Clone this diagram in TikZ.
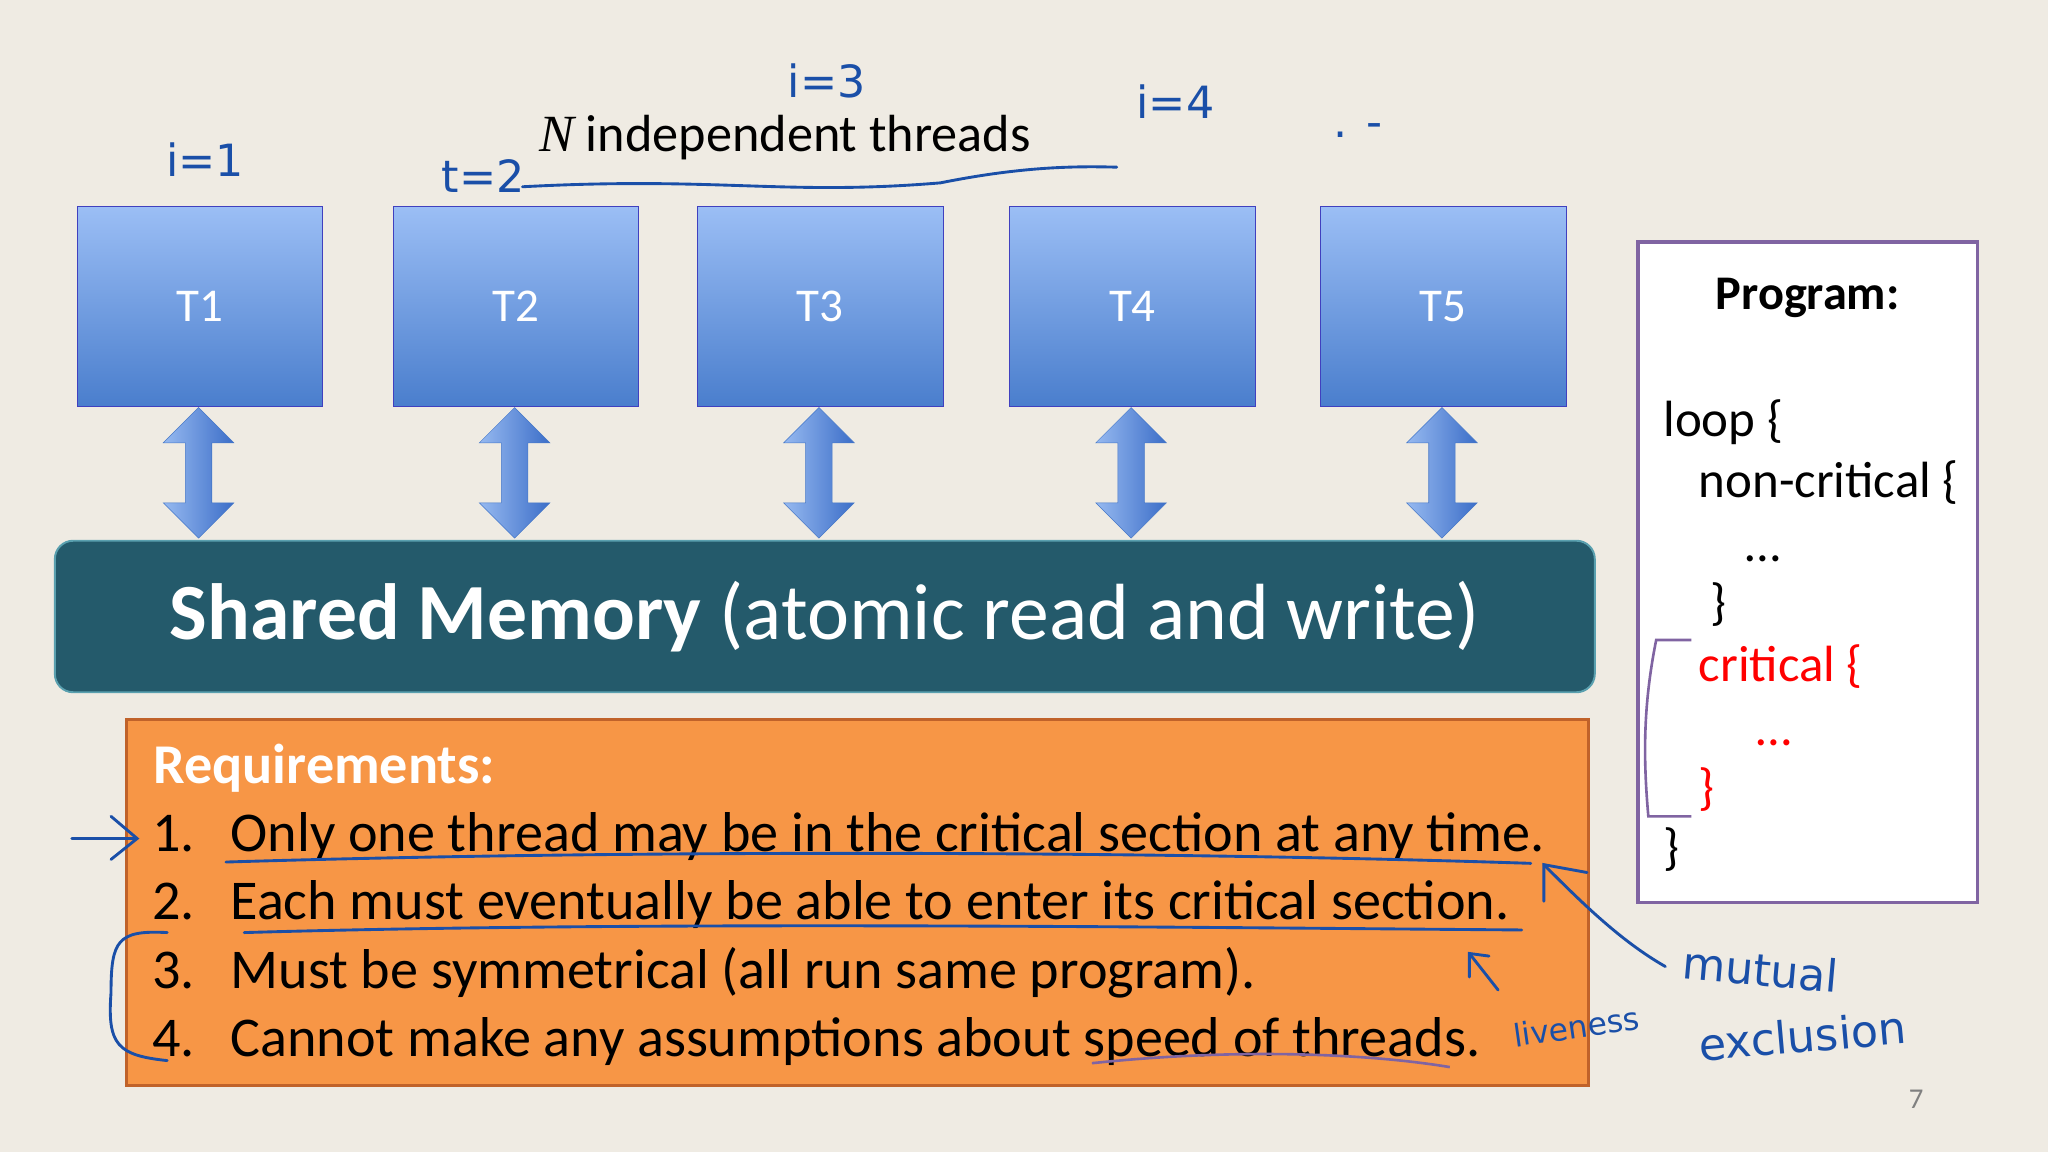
\documentclass[tikz,border=0pt]{standalone}
\usepackage{fontspec}
\setmainfont{Carlito}
\newfontfamily\hand{DejaVu Sans}
\newfontfamily\serifN{Liberation Serif}
\usetikzlibrary{shapes.arrows}
\definecolor{bg}{HTML}{EFEBE3}
\definecolor{ink}{HTML}{1A4FA8}
\definecolor{tealbox}{HTML}{245A6B}
\definecolor{orangebox}{HTML}{F79646}
\definecolor{purp}{HTML}{8064A2}
\tikzset{
 tbox/.style={draw=blue!50!gray, top color={rgb,255:red,155;green,190;blue,245}, bottom color={rgb,255:red,74;green,126;blue,205}, minimum width=188pt, minimum height=153pt, font=\fontsize{36}{42}\selectfont, text=white},
 darr/.style={double arrow, rotate=90, minimum height=100pt, minimum width=54pt, double arrow head extend=12pt, inner sep=7pt, draw={rgb,255:red,70;green,120;blue,200}, left color={rgb,255:red,150;green,185;blue,240}, right color={rgb,255:red,60;green,110;blue,200}, shading angle=90},
 handw/.style={text=ink, font=\hand\fontsize{34}{40}\selectfont},
 stroke/.style={draw=ink, line width=2.2pt, line cap=round},
 req/.style={anchor=base west, font=\fontsize{43}{50}\selectfont},
 prog/.style={anchor=base west, font=\fontsize{39}{46}\selectfont}
}
\begin{document}
\begin{tikzpicture}[x=1pt,y=-1pt]
\fill[bg] (0,0) rectangle (1568,882);
\useasboundingbox (0,0) rectangle (1568,882);
% thread boxes
\foreach \n/\x in {1/153,2/395,3/628,4/867,5/1105}{
 \node[tbox] (t\n) at (\x,234.5) {T\n};
 \node[darr] (a\n) at (\x-1,362) {};
}
% shared memory
\node[draw={rgb,255:red,90;green,160;blue,175}, line width=1.5pt, fill=tealbox, rounded corners=14pt, minimum width=1179pt, minimum height=116pt, text=white, font=\fontsize{61}{70}\selectfont] (mem) at (631.5,472) {\textbf{Shared Memory} (atomic read and write)};
% requirements
\node[draw={rgb,255:red,192;green,98;blue,42}, line width=2.5pt, fill=orangebox, minimum width=1119pt, minimum height=280pt] (reqbox) at (656.5,691) {};
\node[req, text=white] (rh) at (114,600) {\textbf{Requirements:}};
\node[req] (r1n) at (113,652) {1.};\node[req] (r1) at (173,652) {Only one thread may be in the critical section at any time.};
\node[req] (r2n) at (113,704) {2.};\node[req] (r2) at (173,704) {Each must eventually be able to enter its critical section.};
\node[req] (r3n) at (113,757) {3.};\node[req] (r3) at (173,757) {Must be symmetrical (all run same program).};
\node[req] (r4n) at (113,809) {4.};\node[req] (r4) at (173,809) {Cannot make any assumptions about speed of threads.};
% program box
\node[draw=purp, line width=3pt, fill=white, minimum width=260pt, minimum height=506pt] (pbox) at (1384,438) {};
\node[font=\fontsize{37}{44}\selectfont\bfseries] (ph) at (1384,228) {Program:};
\node[prog] (p1) at (1270,334) {loop \{};
\node[prog] (p2) at (1297,381) {non-critical \{};
\node[prog] (p3) at (1333,430) {\dots};
\node[prog] (p4) at (1306,474) {\}};
\node[prog, text=red] (p5) at (1297,522) {critical \{};
\node[prog, text=red] (p6) at (1341,571) {\dots};
\node[prog, text=red] (p7) at (1297,616) {\}};
\node[prog] (p8) at (1270,662) {\}};
% title
\node[font=\fontsize{40}{46}\selectfont, anchor=base] (title) at (601,116) {{\serifN\itshape N} independent threads};
\node[text=gray, font=\fontsize{22}{26}\selectfont] (pg) at (1467,842) {7};
% handwriting
\node[handw] (h1) at (157,122) {i=1};
\node[handw] (h2) at (370,135) {t=2};
\node[handw] (h3) at (633,62) {i=3};
\node[handw] (h4) at (900,78) {i=4};
\node[handw] (hd) at (1040,100) {. -};
\node[handw, rotate=-5] (hmut) at (1348,742) {mutual};
\node[handw, rotate=5] (hexc) at (1380,793) {exclusion};
\node[handw, font=\hand\fontsize{24}{28}\selectfont, rotate=8] (hliv) at (1207,786) {liveness};
\draw[stroke] (400,143) .. controls (550,135) and (600,150) .. (720,140) .. controls (780,128) and (820,127) .. (855,128);
\draw[stroke] (173,660) .. controls (500,650) and (900,652) .. (1172,661);
\draw[stroke] (187,714) .. controls (500,705) and (900,710) .. (1165,712);
\draw[draw=purp, line width=2pt] (836,814) .. controls (950,802) and (1050,807) .. (1110,817);
\draw[stroke] (55,642) -- (105,642);
\draw[stroke] (85,625) -- (105,642) -- (85,658);
\draw[stroke] (128,714) .. controls (90,712) and (85,720) .. (85,760) .. controls (82,800) and (90,808) .. (128,812);
\draw[stroke] (1275,740) .. controls (1240,720) and (1210,690) .. (1182,662);
\draw[stroke] (1182,690) -- (1182,662) -- (1215,668);
\draw[stroke] (1147,758) -- (1125,730);
\draw[stroke] (1125,748) -- (1125,730) -- (1140,732);
\draw[draw=purp, line width=2pt] (1295,490) -- (1268,490) .. controls (1258,540) and (1258,580) .. (1262,625) -- (1295,625);
\end{tikzpicture}
\end{document}
